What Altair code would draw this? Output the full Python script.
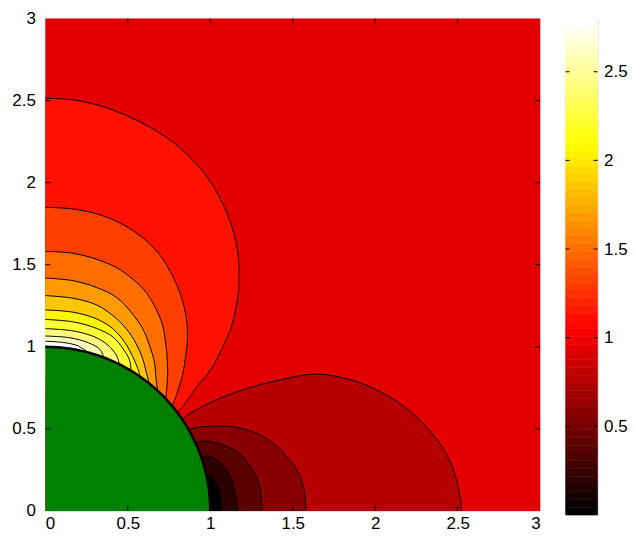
import altair as alt
import numpy as np
import pandas as pd

# ---------------- data ----------------
FAR_FIELD_LEVEL = 0.935
UPPER_LEVELS = [1.122, 1.309, 1.496, 1.683, 1.870, 2.057, 2.244, 2.431, 2.618, 2.805]
LOWER_LEVELS = [0.748, 0.561, 0.374, 0.187, 0.0]

# upper contours: from the y axis down to the hole (x, y)
C1_X = [0.0, 0.168, 0.329, 0.490, 0.631, 0.771, 0.892, 0.993, 1.063, 1.124, 1.164, 1.174, 1.174, 1.154, 1.124, 1.089, 1.053, 0.993, 0.912, 0.85, 0.80]
C1_Y = [2.515, 2.505, 2.470, 2.410, 2.340, 2.249, 2.138, 2.017, 1.896, 1.755, 1.594, 1.473, 1.373, 1.231, 1.111, 1.030, 0.950, 0.849, 0.748, 0.66, 0.60]
C2_X = [0.0, 0.168, 0.329, 0.470, 0.590, 0.691, 0.771, 0.822, 0.852, 0.862, 0.852, 0.832, 0.80, 0.77]
C2_Y = [1.850, 1.840, 1.805, 1.745, 1.665, 1.564, 1.433, 1.312, 1.192, 1.071, 0.950, 0.829, 0.72, 0.64]
C3_X = [0.0, 0.168, 0.309, 0.430, 0.530, 0.611, 0.671, 0.711, 0.731, 0.741, 0.741, 0.73]
C3_Y = [1.582, 1.570, 1.534, 1.483, 1.413, 1.332, 1.231, 1.131, 1.010, 0.889, 0.808, 0.685]
C4_X = [0.0, 0.168, 0.309, 0.430, 0.520, 0.590, 0.631, 0.661, 0.671, 0.68]
C4_Y = [1.419, 1.403, 1.362, 1.302, 1.211, 1.111, 1.010, 0.909, 0.808, 0.733]
C5_X = [0.0, 0.168, 0.309, 0.409, 0.490, 0.550, 0.590, 0.611, 0.63]
C5_Y = [1.312, 1.296, 1.256, 1.191, 1.111, 1.020, 0.929, 0.849, 0.777]
C6_X = [0.0, 0.168, 0.309, 0.409, 0.480, 0.530, 0.560, 0.575]
C6_Y = [1.225, 1.211, 1.171, 1.111, 1.030, 0.940, 0.869, 0.818]
C7_X = [0.0, 0.168, 0.309, 0.41, 0.47, 0.51, 0.52]
C7_Y = [1.167, 1.152, 1.113, 1.06, 0.99, 0.92, 0.855]
C8_X = [0.0, 0.168, 0.30, 0.38, 0.43, 0.45]
C8_Y = [1.111, 1.097, 1.06, 1.01, 0.95, 0.893]
C9_X = [0.0, 0.15, 0.26, 0.33, 0.355]
C9_Y = [1.066, 1.055, 1.025, 0.985, 0.935]
C10_X = [0.0, 0.12, 0.2, 0.26]
C10_Y = [1.034, 1.025, 1.005, 0.966]

# lower contours: from the hole out to the x axis (x, y)
L1_X = [0.83, 0.87, 1.02, 1.22, 1.43, 1.616, 1.737, 1.95, 2.17, 2.33, 2.43, 2.49, 2.515, 2.521]
L1_Y = [0.56, 0.59, 0.67, 0.745, 0.80, 0.833, 0.825, 0.765, 0.64, 0.49, 0.35, 0.2, 0.08, 0.0]
L2_X = [0.87, 0.93, 1.033, 1.113, 1.174, 1.25, 1.315, 1.415, 1.48, 1.516, 1.566, 1.58]
L2_Y = [0.495, 0.51, 0.517, 0.515, 0.506, 0.485, 0.456, 0.385, 0.31, 0.265, 0.144, 0.0]
L3_X = [0.91, 0.95, 1.033, 1.154, 1.234, 1.295, 1.315]
L3_Y = [0.415, 0.425, 0.416, 0.366, 0.285, 0.164, 0.0]
L4_X = [0.945, 0.99, 1.073, 1.133, 1.164]
L4_Y = [0.327, 0.335, 0.285, 0.184, 0.0]
L5_X = [0.975, 1.0, 1.043, 1.063, 1.07]
L5_Y = [0.222, 0.215, 0.144, 0.07, 0.0]

HOLE_RADIUS = 1.0
AXIS_TICKS = [0, 0.5, 1, 1.5, 2, 2.5, 3]
INNER_TICKS = [0.5, 1, 1.5, 2, 2.5]
CBAR_TICKS = [0.5, 1, 1.5, 2, 2.5]
CBAR_MAX = 2.8
CBAR_STEPS = 64

UPPER = [(C1_X, C1_Y), (C2_X, C2_Y), (C3_X, C3_Y), (C4_X, C4_Y), (C5_X, C5_Y),
         (C6_X, C6_Y), (C7_X, C7_Y), (C8_X, C8_Y), (C9_X, C9_Y), (C10_X, C10_Y)]
LOWER = [(L1_X, L1_Y), (L2_X, L2_Y), (L3_X, L3_Y), (L4_X, L4_Y), (L5_X, L5_Y)]

# ---------------- styling ----------------
FONT = "Liberation Sans"
FS = 17
W, H = 496, 493.5
INTERP = "catmull-rom"

XSC = alt.Scale(domain=[0, 3], nice=False, zero=False)
YSC = alt.Scale(domain=[0, 3], nice=False, zero=False)
CSC = alt.Scale(domain=[0, 1.05, 2.1, CBAR_MAX],
                range=["#000000", "#ff0000", "#ffff00", "#ffffff"], interpolate="rgb")

AX_X = alt.Axis(values=AXIS_TICKS, format="~g", ticks=False, grid=False, domain=False,
                labelFont=FONT, labelFontSize=FS, labelColor="black", labelPadding=5, title=None)
AX_Y = alt.Axis(values=AXIS_TICKS, format="~g", ticks=False, grid=False, domain=False,
                labelFont=FONT, labelFontSize=FS, labelColor="black", labelPadding=10, title=None)


def X(f):
    return alt.X(f, type="quantitative", scale=XSC, axis=AX_X)


def Y(f):
    return alt.Y(f, type="quantitative", scale=YSC, axis=AX_Y)


def COL(f):
    return alt.Color(f, type="quantitative", scale=CSC, legend=None)


layers = []

bg = pd.DataFrame({"x": [0], "x2": [3], "y": [0], "y2": [3], "lev": [FAR_FIELD_LEVEL]})
layers.append(alt.Chart(bg).mark_rect().encode(x=X("x"), x2="x2", y=Y("y"), y2="y2", color=COL("lev")))

for lev, (xs, ys) in zip(UPPER_LEVELS, UPPER):
    d = pd.DataFrame({"x": xs, "y": ys, "lev": lev})
    layers.append(alt.Chart(d).mark_area(orient="horizontal", interpolate=INTERP).encode(
        x=X("x"), y=Y("y"), color=COL("lev")))

for lev, (xs, ys) in zip(LOWER_LEVELS, LOWER):
    d = pd.DataFrame({"x": xs, "y": ys, "lev": lev})
    layers.append(alt.Chart(d).mark_area(orient="vertical", interpolate=INTERP).encode(
        x=X("x"), y=Y("y"), color=COL("lev")))

th = np.linspace(0, np.pi / 2, 121)
hole = pd.DataFrame({"x": HOLE_RADIUS * np.cos(th), "y": HOLE_RADIUS * np.sin(th), "i": np.arange(len(th))})
layers.append(alt.Chart(hole).mark_area(color="#008000", orient="vertical").encode(x=X("x"), y=Y("y")))

rows = []
for cid, (xs, ys) in enumerate(UPPER + LOWER):
    for i, (a, b) in enumerate(zip(xs, ys)):
        rows.append({"x": a, "y": b, "cid": cid, "i": i})
lines = pd.DataFrame(rows)
layers.append(alt.Chart(lines).mark_line(color="black", strokeWidth=1, interpolate=INTERP).encode(
    x=X("x"), y=Y("y"), detail="cid:N", order="i:Q"))

layers.append(alt.Chart(hole).mark_line(color="black", strokeWidth=2.5).encode(
    x=X("x"), y=Y("y"), order="i:Q"))

tk = pd.DataFrame({"t": INNER_TICKS})
TL = 5
layers.append(alt.Chart(tk).mark_rule(color="black", strokeWidth=1).encode(x=X("t"), y=alt.value(H), y2=alt.value(H - TL)))
layers.append(alt.Chart(tk).mark_rule(color="black", strokeWidth=1).encode(x=X("t"), y=alt.value(0), y2=alt.value(TL)))
layers.append(alt.Chart(tk).mark_rule(color="black", strokeWidth=1).encode(y=Y("t"), x=alt.value(0), x2=alt.value(TL)))
layers.append(alt.Chart(tk).mark_rule(color="black", strokeWidth=1).encode(y=Y("t"), x=alt.value(W), x2=alt.value(W - TL)))

main = alt.layer(*layers).properties(width=W, height=H)

# ---------------- colour bar ----------------
k = np.arange(CBAR_STEPS)
cb = pd.DataFrame({"lo": k * CBAR_MAX / CBAR_STEPS, "hi": (k + 1) * CBAR_MAX / CBAR_STEPS,
                   "lev": k / (CBAR_STEPS - 1) * CBAR_MAX})
CBW, CBH = 32, 497.5
CYSC = alt.Scale(domain=[0, CBAR_MAX], nice=False, zero=False)
CAX = alt.Axis(orient="right", values=CBAR_TICKS, format="~g", ticks=False, grid=False, domain=False,
               labelFont=FONT, labelFontSize=FS, labelColor="black", labelPadding=6, title=None)
cbar_rect = alt.Chart(cb).mark_rect(strokeWidth=0.6).encode(
    y=alt.Y("lo:Q", scale=CYSC, axis=CAX), y2="hi:Q",
    x=alt.value(0), x2=alt.value(CBW), color=COL("lev"),
    stroke=alt.Color("lev:Q", scale=CSC, legend=None))
ctk = pd.DataFrame({"t": CBAR_TICKS})
cbar_l = alt.Chart(ctk).mark_rule(color="black").encode(y=alt.Y("t:Q", scale=CYSC, axis=CAX), x=alt.value(0), x2=alt.value(4))
cbar_r = alt.Chart(ctk).mark_rule(color="black").encode(y=alt.Y("t:Q", scale=CYSC, axis=CAX), x=alt.value(CBW), x2=alt.value(CBW - 4))
cbar = alt.layer(cbar_rect, cbar_l, cbar_r).properties(width=CBW, height=CBH)

chart = alt.HConcatChart(hconcat=[main, cbar], spacing=25.5, bounds="flush").resolve_scale(
    y="independent", x="independent"
).properties(
    padding={"left": 2.4, "top": 0, "right": 0, "bottom": 0}
).configure_view(stroke="black", strokeWidth=1.5).configure(background="white")

chart.save("out.html", embed_options={"renderer": "svg", "actions": False})
